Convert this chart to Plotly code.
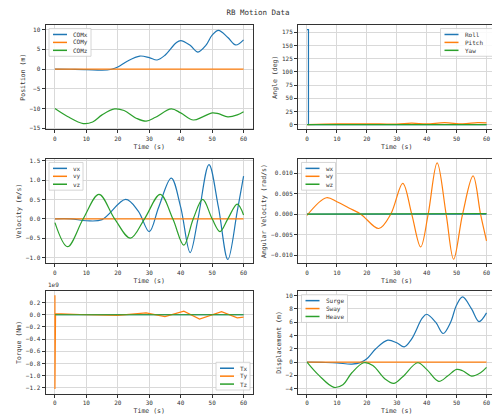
import plotly.graph_objects as go
from plotly.subplots import make_subplots

C1, C2, C3 = "#1f77b4", "#ff7f0e", "#2ca02c"

# Position
pos_t = [0, 5, 10, 15, 18, 20, 23, 27, 30, 32.5, 35, 38.5, 40, 43, 45.5, 48, 50, 52, 55, 57.5, 60]
comx = [0, -0.05, -0.12, -0.3, -0.05, 0.5, 2.0, 3.3, 2.9, 2.3, 3.5, 6.6, 7.2, 6.0, 4.3, 6.0, 8.6, 9.8, 8.0, 6.1, 7.4]
comz_t = [0, 4, 9, 12, 15, 19, 22, 26, 29, 32, 37, 40, 44, 47, 50, 52, 55, 58, 60]
comz = [-10, -12, -13.8, -13.4, -11.6, -10.1, -10.5, -12.5, -13.2, -12.2, -10.1, -11.1, -12.9, -12.1, -11.1, -11.3, -12.1, -11.6, -10.8]

# Angle
roll_t = [0, 0.5, 0.5, 60]
roll = [180, 180, 0, 0]
pitch_t = [0, 10, 20, 30, 35, 40, 46, 52, 57, 60]
pitch = [0, 1.5, 1.8, 1.2, 3.0, 1.5, 4.0, 1.5, 4.0, 3.5]
yaw_t = [0, 60]
yaw = [0, 0]

# Velocity
v_t = [0, 5, 10, 15, 22.5, 26.5, 30, 33, 37, 40, 43, 45.5, 49, 52, 55, 58, 60]
vx = [0, 0, -0.05, -0.02, 0.5, 0.2, -0.33, 0.3, 1.05, 0.3, -0.87, 0.0, 1.4, 0.3, -1.05, 0.2, 1.1]
vz_t = [0, 4, 9, 14, 19, 24, 28.5, 33.5, 37.5, 41, 44, 47, 50, 52.5, 55, 58, 60]
vz = [-0.1, -0.72, 0, 0.63, 0, -0.5, 0, 0.63, 0, -0.68, 0, 0.5, 0, -0.33, 0, 0.38, 0.1]

# Angular velocity
w_t = [0, 6.5, 10, 14, 18, 24, 28, 32, 35, 38, 40.5, 43.5, 46.5, 49, 52, 55.5, 58, 60]
wy = [-0.0003, 0.004, 0.003, 0.0015, 0, -0.0035, 0, 0.0075, 0, -0.008, 0, 0.0125, 0, -0.011, 0, 0.0093, 0, -0.0065]

# Torque
tq_t = [0, 0, 0, 0.2, 10, 20, 29, 35, 41, 46, 53, 58, 60]
ty = [0.32e9, -1.22e9, 0.02e9, 0.02e9, 0, -0.01e9, 0.03e9, -0.03e9, 0.06e9, -0.07e9, 0.05e9, -0.05e9, -0.04e9]

# Displacement
heave = [z + 10 for z in comz]

fig = make_subplots(rows=3, cols=2)

def add(r, c, x, y, name, color, spline=True):
    fig.add_trace(go.Scatter(x=x, y=y, name=name, mode="lines", showlegend=False,
                             line=dict(color=color, width=1.2, shape="spline" if spline else "linear")),
                  row=r, col=c)

add(1, 1, pos_t, comx, "COMx", C1)
add(1, 1, [0, 60], [0, 0], "COMy", C2)
add(1, 1, comz_t, comz, "COMz", C3)
add(1, 2, roll_t, roll, "Roll", C1, False)
add(1, 2, pitch_t, pitch, "Pitch", C2)
add(1, 2, yaw_t, yaw, "Yaw", C3, False)
add(2, 1, v_t, vx, "vx", C1)
add(2, 1, [0, 60], [0, 0], "vy", C2, False)
add(2, 1, vz_t, vz, "vz", C3)
add(2, 2, [0, 60], [0, 0], "wx", C1, False)
add(2, 2, w_t, wy, "wy", C2)
add(2, 2, [0, 60], [0, 0.0001], "wz", C3, False)
add(3, 1, [0, 60], [0, 0], "Tx", C1, False)
add(3, 1, tq_t, ty, "Ty", C2, False)
add(3, 1, [0, 60], [0, 0], "Tz", C3, False)
add(3, 2, pos_t, comx, "Surge", C1)
add(3, 2, [0, 60], [0, 0], "Sway", C2, False)
add(3, 2, comz_t, heave, "Heave", C3)

W, H = 500, 416
dom_x = [[0.075, 0.49], [0.58, 0.975]]
dom_y = [[0.71, 0.964], [0.385, 0.639], [0.068, 0.318]]
ytitles = [["Position (m)", "Angle (deg)"], ["Velocity (m/s)", "Angular Velocity (rad/s)"], ["Torque (Nm)", "Displacement (m)"]]
axstyle = dict(showgrid=True, gridcolor="#d9d9d9", showline=True, linecolor="#333", mirror=True,
               ticks="outside", ticklen=3, tickcolor="#333", zeroline=False,
               tickfont=dict(size=6), title_font=dict(size=6.5), title_standoff=3)
for r in range(3):
    for c in range(2):
        fig.update_xaxes(domain=dom_x[c], range=[-3, 63], dtick=10, title_text="Time (s)",
                         row=r + 1, col=c + 1, **axstyle)
        fig.update_yaxes(domain=dom_y[r], title_text=ytitles[r][c], row=r + 1, col=c + 1, **axstyle)
fig.update_yaxes(range=[-15.3, 11.2], dtick=5, row=1, col=1)
fig.update_yaxes(range=[-9, 189], dtick=25, row=1, col=2)
fig.update_yaxes(range=[-1.15, 1.55], dtick=0.5, tickformat=".1f", row=2, col=1)
fig.update_yaxes(range=[-0.012, 0.0135], dtick=0.005, tickformat=".3f", row=2, col=2)
fig.update_yaxes(range=[-1.3e9, 0.39e9], tickvals=[0.2e9, 0, -0.2e9, -0.4e9, -0.6e9, -0.8e9, -1.0e9, -1.2e9],
                 ticktext=["0.2", "0.0", "−0.2", "−0.4", "−0.6", "−0.8", "−1.0", "−1.2"], row=3, col=1)
fig.update_yaxes(range=[-4.8, 10.7], dtick=2, row=3, col=2)

shapes, annos = [], []
def legend(x0, ytop, names, colors, width=46):
    step = 8 / H
    h = (len(names) * 8 + 4) / H
    w = width / W
    shapes.append(dict(type="rect", xref="paper", yref="paper", x0=x0, x1=x0 + w, y0=ytop - h, y1=ytop,
                       line=dict(color="#ccc", width=0.8), fillcolor="rgba(255,255,255,0.85)"))
    for i, (n, col) in enumerate(zip(names, colors)):
        yy = ytop - (6 + i * 8) / H
        shapes.append(dict(type="line", xref="paper", yref="paper", x0=x0 + 4 / W, x1=x0 + 18 / W,
                           y0=yy, y1=yy, line=dict(color=col, width=1.5)))
        annos.append(dict(text=n, x=x0 + 22 / W, y=yy, xref="paper", yref="paper", xanchor="left",
                          yanchor="middle", showarrow=False, font=dict(size=6)))

cols = [C1, C2, C3]
legend(0.082, 0.955, ["COMx", "COMy", "COMz"], cols, 42)
legend(0.975 - 52 / W - 0.006, 0.955, ["Roll", "Pitch", "Yaw"], cols, 52)
legend(0.082, 0.630, ["vx", "vy", "vz"], cols, 34)
legend(0.587, 0.630, ["wx", "wy", "wz"], cols, 34)
legend(0.49 - 34 / W - 0.006, 0.068 + 32 / H, ["Tx", "Ty", "Tz"], cols, 34)
legend(0.587, 0.309, ["Surge", "Sway", "Heave"], cols, 46)

annos.append(dict(text="1e9", x=0.075, y=0.32, xref="paper", yref="paper", xanchor="left",
                  yanchor="bottom", showarrow=False, font=dict(size=6)))

fig.update_layout(
    width=W, height=H, margin=dict(l=0, r=0, t=0, b=0), showlegend=False,
    paper_bgcolor="white", plot_bgcolor="white",
    font=dict(family="DejaVu Sans Mono", size=6, color="#333"),
    title=dict(text="RB Motion Data", x=0.5, y=0.995, yanchor="top", font=dict(size=7.5)),
    shapes=shapes, annotations=annos,
)
fig.write_html("out.html")
